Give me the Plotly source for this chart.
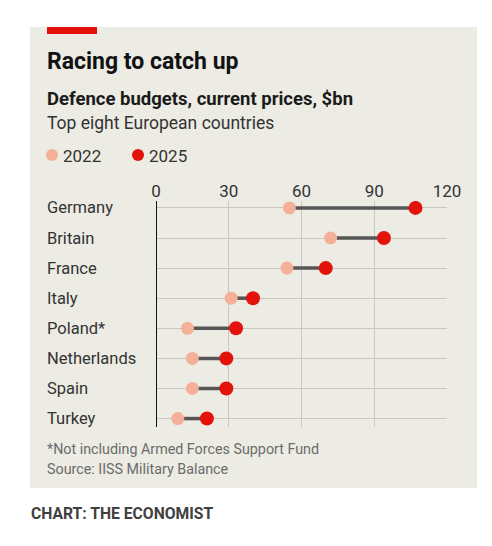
import plotly.graph_objects as go

countries = ["Germany", "Britain", "France", "Italy", "Poland*", "Netherlands", "Spain", "Turkey"]
v2022 = [55, 72, 54, 31, 13, 15, 15, 9]
v2025 = [107, 94, 70, 40, 33, 29, 29, 21]
xticks = [0, 30, 60, 90, 120]

# page has an 8px body margin; the figure is sized to fit the window without scrollbars
OFF = 8
W, H = 492 - 2 * OFF, 546 - 2 * OFF
BG = "#ecebe4"
RED = "#e3120b"
PINK = "#f5b09a"
FONT = "Roboto"

def px(x):
    return (x - OFF) / W

def py(y):
    return 1 - (y - OFF) / H

fig = go.Figure()

# connectors
lx, ly = [], []
for c, a, b in zip(countries, v2022, v2025):
    lx += [a, b, None]
    ly += [c, c, None]
fig.add_trace(go.Scatter(x=lx, y=ly, mode="lines", line=dict(color="#555555", width=3.5),
                         hoverinfo="skip", showlegend=False))
fig.add_trace(go.Scatter(x=v2022, y=countries, mode="markers", name="2022",
                         marker=dict(color=PINK, size=13), showlegend=False))
fig.add_trace(go.Scatter(x=v2025, y=countries, mode="markers", name="2025",
                         marker=dict(color=RED, size=14), showlegend=False))

shapes = [
    dict(type="rect", xref="paper", yref="paper", x0=px(30), x1=px(477), y0=py(488), y1=py(27),
         fillcolor=BG, line=dict(width=0), layer="below"),
    dict(type="rect", xref="paper", yref="paper", x0=px(47), x1=px(97), y0=py(34), y1=py(27),
         fillcolor=RED, line=dict(width=0), layer="below"),
    # legend swatches
    dict(type="circle", xref="paper", yref="paper", x0=px(46), x1=px(58), y0=py(161), y1=py(149),
         fillcolor=PINK, line=dict(width=0)),
    dict(type="circle", xref="paper", yref="paper", x0=px(132), x1=px(144), y0=py(161), y1=py(149),
         fillcolor=RED, line=dict(width=0)),
]

ann = []
def text(x, y, s, size, color, bold=False, xanchor="left"):
    ann.append(dict(xref="paper", yref="paper", x=px(x), y=py(y), text=(f"<b>{s}</b>" if bold else s),
                    showarrow=False, xanchor=xanchor, yanchor="middle",
                    font=dict(family=FONT, size=size, color=color)))

text(45, 62, "Racing to catch up", 23, "#121212", bold=True)
text(45, 99, "Defence budgets, current prices, $bn", 18.5, "#1a1a1a", bold=True)
text(45, 123, "Top eight European countries", 17.5, "#333333")
text(61, 156, "2022", 17, "#333333")
text(147, 156, "2025", 17, "#333333")
text(45, 449, "*Not including Armed Forces Support Fund", 14.3, "#6b6b6b")
text(45, 469, "Source: IISS Military Balance", 14.3, "#6b6b6b")
text(29, 513, "CHART: THE ECONOMIST", 15.7, "#404040", bold=True)

for c in countries:
    ann.append(dict(xref="paper", yref="y", x=px(45), y=c, text=c, showarrow=False,
                    xanchor="left", yanchor="middle",
                    font=dict(family=FONT, size=16.5, color="#333333")))

fig.update_layout(
    width=W, height=H,
    margin=dict(l=0, r=0, t=0, b=0, pad=0, autoexpand=False),
    paper_bgcolor="white", plot_bgcolor=BG,
    shapes=shapes, annotations=ann,
    xaxis=dict(domain=[px(156), px(447)], range=[0, 120], side="top", tickvals=xticks,
               showgrid=True, gridcolor="#c9c8c0", gridwidth=1, automargin=False,
               zeroline=False, showline=False, ticks="",
               tickfont=dict(family=FONT, size=17, color="#333333"), fixedrange=True),
    yaxis=dict(domain=[py(427), py(201)], range=[7.28, -0.23], type="category",
               categoryorder="array", categoryarray=countries, automargin=False,
               showticklabels=False, showgrid=True, gridcolor="#c9c8c0", gridwidth=1,
               zeroline=False, showline=False, ticks="", fixedrange=True),
)

# zero line drawn at x=0 through axis coordinates
fig.add_shape(type="line", xref="x", yref="paper", x0=0, x1=0, y0=py(427), y1=py(201),
              line=dict(color="#121212", width=2))

fig.write_html("out.html")
